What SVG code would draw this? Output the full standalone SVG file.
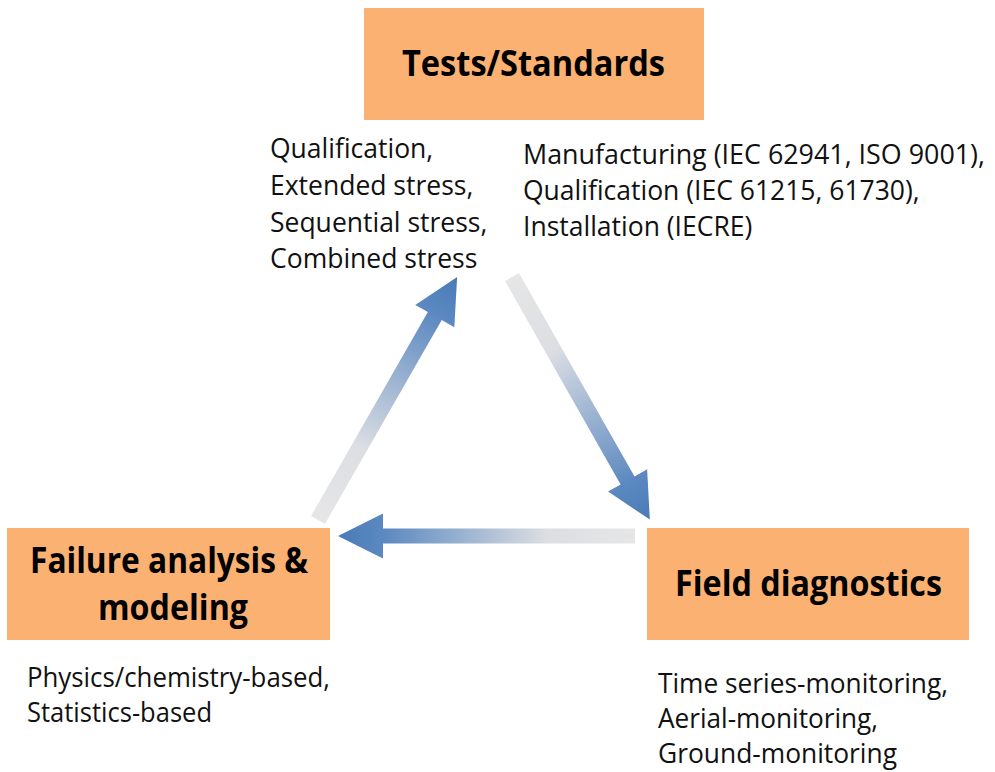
<svg xmlns="http://www.w3.org/2000/svg" width="995" height="772" viewBox="0 0 995 772">
<style>
.box{fill:#FAB171;}
.title{font-family:"Open Sans","Liberation Sans",sans-serif;font-weight:bold;font-size:35px;fill:#000;}
.note{font-family:"Open Sans","Liberation Sans",sans-serif;font-size:26.5px;fill:#111;}
.note2{font-family:"Open Sans","Liberation Sans",sans-serif;font-size:26.5px;fill:#111;}
.arrow{fill:url(#ag);}
</style>
<defs>
<linearGradient id="ag" x1="0" y1="0" x2="1" y2="0">
<stop offset="0" stop-color="#E6E6E6"/>
<stop offset="0.3" stop-color="#DCDEE3"/>
<stop offset="0.85" stop-color="#5B88C0"/>
<stop offset="1" stop-color="#4A7BB7"/>
</linearGradient>
</defs>
<rect width="995" height="772" fill="#fff"/>
<g id="connectors">
<polygon class="arrow" transform="translate(318,520) rotate(-60.2)" points="0,-8 235,-8 235,-22.5 280,0 235,22.5 235,8 0,8"/>
<polygon class="arrow" transform="translate(512,277) rotate(60.4)" points="0,-8 234,-8 234,-22.5 279,0 234,22.5 234,8 0,8"/>
<polygon class="arrow" transform="translate(635,536) rotate(180)" points="0,-7.5 252,-7.5 252,-22.5 297,0 252,22.5 252,7.5 0,7.5"/>
</g>
<g id="tests">
<rect class="box" x="364" y="8" width="340" height="112"/>
<text class="title" x="402" y="76" textLength="263" lengthAdjust="spacingAndGlyphs">Tests/Standards</text>
</g>
<g id="tests-notes-left">
<text class="note" x="270" y="158">Qualification,</text>
<text class="note" x="270" y="195">Extended stress,</text>
<text class="note" x="270" y="232">Sequential stress,</text>
<text class="note" x="270" y="268">Combined stress</text>
</g>
<g id="tests-notes-right">
<text class="note" x="523" y="164" textLength="462" lengthAdjust="spacingAndGlyphs">Manufacturing (IEC 62941, ISO 9001),</text>
<text class="note" x="523" y="200">Qualification (IEC 61215, 61730),</text>
<text class="note" x="523" y="236">Installation (IECRE)</text>
</g>
<g id="failure">
<rect class="box" x="7" y="528" width="323" height="112"/>
<text class="title" x="30" y="573" textLength="278" lengthAdjust="spacingAndGlyphs">Failure analysis &amp;</text>
<text class="title" x="98" y="620" textLength="150" lengthAdjust="spacingAndGlyphs">modeling</text>
</g>
<g id="failure-notes">
<text class="note2" x="27" y="687" textLength="303" lengthAdjust="spacingAndGlyphs">Physics/chemistry-based,</text>
<text class="note2" x="27" y="722" textLength="185" lengthAdjust="spacingAndGlyphs">Statistics-based</text>
</g>
<g id="field">
<rect class="box" x="647" y="528" width="322" height="112"/>
<text class="title" x="675" y="596" textLength="267" lengthAdjust="spacingAndGlyphs">Field diagnostics</text>
</g>
<g id="field-notes">
<text class="note2" x="658" y="693" textLength="290" lengthAdjust="spacingAndGlyphs">Time series-monitoring,</text>
<text class="note2" x="658" y="728" textLength="220" lengthAdjust="spacingAndGlyphs">Aerial-monitoring,</text>
<text class="note2" x="658" y="763" textLength="239" lengthAdjust="spacingAndGlyphs">Ground-monitoring</text>
</g>
</svg>
